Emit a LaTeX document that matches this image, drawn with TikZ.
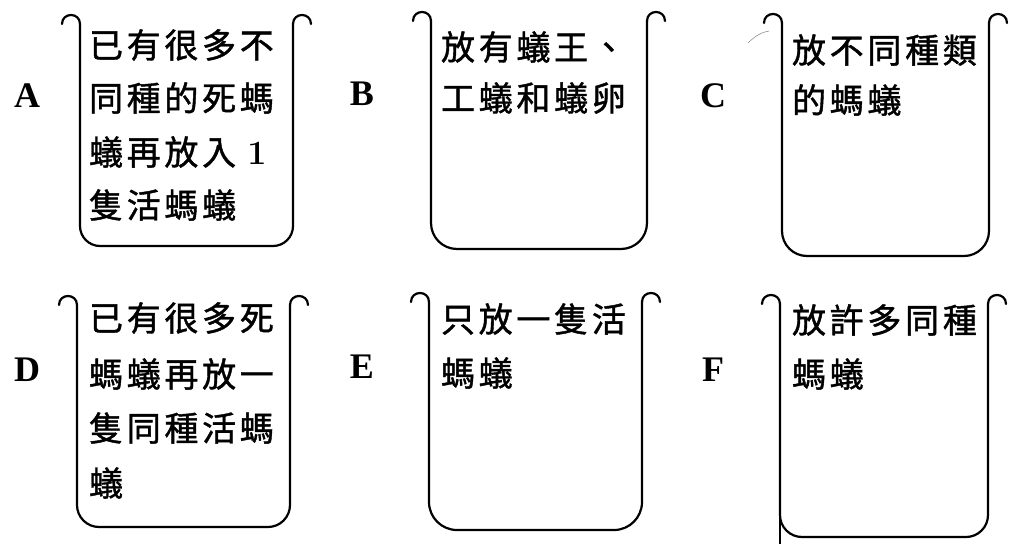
\documentclass[tikz,border=0pt]{standalone}
\usepackage{fontspec}
\newfontfamily\cjk[FakeBold=1.2]{Noto Sans CJK TC}
\newfontfamily\lblfont{Liberation Serif}
\newlength\cpitch
\setlength\cpitch{37.7pt}
\def\cjklinei#1{\ifx\relax#1\else\makebox[\cpitch]{#1}\expandafter\cjklinei\fi}
\newcommand\cjkline[1]{\cjklinei#1\relax}
\tikzset{
  jarline/.style={line width=2.2pt, line cap=round, line join=round},
  txt/.style={inner sep=0pt, anchor=west, font=\cjk\fontsize{34}{38}\selectfont},
  lbl/.style={inner sep=0pt, font=\lblfont\fontsize{36}{40}\selectfont\bfseries}
}
% #1 L, #2 R, #3 lip top, #4 bottom, #5 corner radius, #6 lip radius
\newcommand\jar[6]{%
  \draw[jarline] ({#1-2*#6},{#3+#6}) .. controls ({#1-2*#6},{#3+#6-1.333*#6}) and ({#1},{#3+#6-1.333*#6}) .. ({#1},{#3+#6});
  \draw[jarline, rounded corners=#5] (#1,{#3+#6}) -- (#1,#4) -- (#2,#4) -- (#2,{#3+#6});
  \draw[jarline] (#2,{#3+#6}) .. controls (#2,{#3+#6-1.333*#6}) and ({#2+2*#6},{#3+#6-1.333*#6}) .. ({#2+2*#6},{#3+#6});
}
\begin{document}
\begin{tikzpicture}[x=1pt, y=-1pt]
\useasboundingbox (0,0) rectangle (1013,544);
% jars
\jar{80}{293}{15}{246}{20pt}{9}
\jar{431}{647}{12}{249}{26pt}{9}
\jar{782}{989}{14}{256}{25pt}{9}
\jar{77}{290}{296}{527}{22pt}{9}
\jar{429}{642}{293}{530}{28pt}{9}
\jar{780}{988}{295}{537}{22pt}{9}
\draw[line width=1.4pt] (780,515) -- (780,544);
\draw[line width=0.5pt, gray] (748,43) .. controls (755,36) and (762,32) .. (769,31);
% labels
\node[lbl] (la) at (27,96) {A};
\node[lbl] (lb) at (362,94) {B};
\node[lbl] (lc) at (713,96) {C};
\node[lbl] (ld) at (27,370) {D};
\node[lbl] (le) at (362,367) {E};
\node[lbl] (lf) at (713,370) {F};
% texts A
\node[txt] (a1) at (87,45) {\cjkline{已有很多不}};
\node[txt] (a2) at (87,98) {\cjkline{同種的死螞}};
\node[txt] (a3) at (87,152) {\cjkline{蟻再放入{\rmfamily\bfseries 1}}};
\node[txt] (a4) at (87,205) {\cjkline{隻活螞蟻}};
% B
\node[txt] (b1) at (439,47) {\cjkline{放有蟻王、}};
\node[txt] (b2) at (439,98) {\cjkline{工蟻和蟻卵}};
% C
\node[txt] (c1) at (790,50) {\cjkline{放不同種類}};
\node[txt] (c2) at (790,100) {\cjkline{的螞蟻}};
% D
\node[txt] (d1) at (87,318) {\cjkline{已有很多死}};
\node[txt] (d2) at (87,374) {\cjkline{螞蟻再放一}};
\node[txt] (d3) at (87,428) {\cjkline{隻同種活螞}};
\node[txt] (d4) at (87,483) {\cjkline{蟻}};
% E
\node[txt] (e1) at (439,319) {\cjkline{只放一隻活}};
\node[txt] (e2) at (439,373) {\cjkline{螞蟻}};
% F
\node[txt] (f1) at (790,320) {\cjkline{放許多同種}};
\node[txt] (f2) at (790,374) {\cjkline{螞蟻}};
\end{tikzpicture}
\end{document}
